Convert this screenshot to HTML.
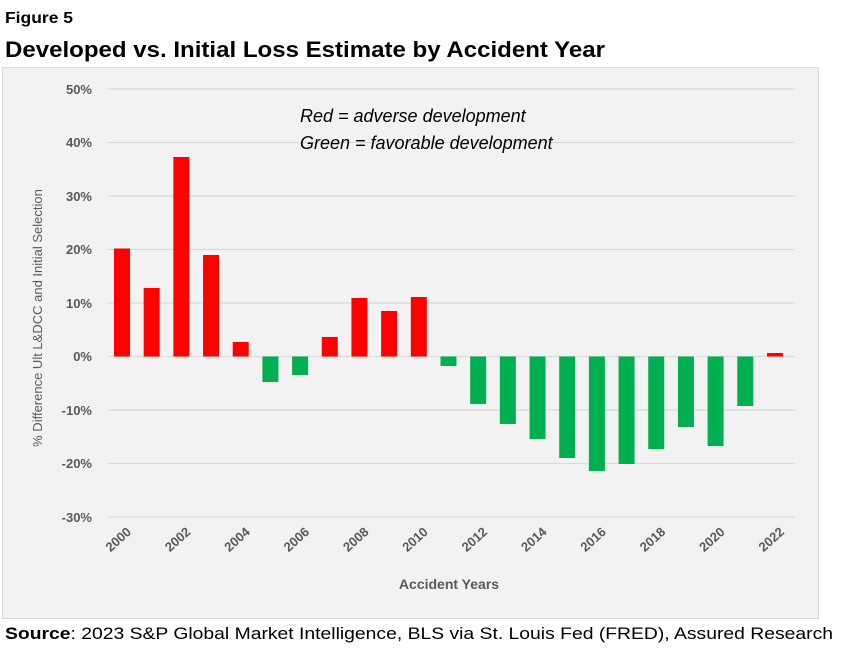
<!DOCTYPE html>
<html><head><style>
body{margin:0;background:#fff;width:865px;height:647px;overflow:hidden;font-family:"Liberation Sans",Arial,sans-serif;}
</style></head><body>
<svg width="865" height="647" xmlns="http://www.w3.org/2000/svg" font-family="Liberation Sans, Arial, sans-serif">
<rect x="0" y="0" width="865" height="647" fill="#fff"/>
<text x="5" y="23" font-size="16" font-weight="bold" fill="#000" textLength="68" lengthAdjust="spacingAndGlyphs">Figure 5</text>
<text x="5" y="57" font-size="22" font-weight="bold" fill="#000" textLength="600" lengthAdjust="spacingAndGlyphs">Developed vs. Initial Loss Estimate by Accident Year</text>
<rect x="2.5" y="67.5" width="816" height="551" fill="#f2f2f2" stroke="#d9d9d9"/>
<g stroke="#d9d9d9" stroke-width="1.2">
<line x1="108" x2="795" y1="89" y2="89"/><line x1="108" x2="795" y1="142.5" y2="142.5"/>
<line x1="108" x2="795" y1="196" y2="196"/><line x1="108" x2="795" y1="249.5" y2="249.5"/>
<line x1="108" x2="795" y1="303" y2="303"/><line x1="108" x2="795" y1="356.5" y2="356.5"/>
<line x1="108" x2="795" y1="410" y2="410"/><line x1="108" x2="795" y1="463.5" y2="463.5"/>
<line x1="108" x2="795" y1="517" y2="517"/>
</g>
<g font-size="13" font-weight="bold" fill="#595959" text-anchor="end">
<text x="92" y="94">50%</text><text x="92" y="147">40%</text><text x="92" y="201">30%</text>
<text x="92" y="254">20%</text><text x="92" y="308">10%</text><text x="92" y="361">0%</text>
<text x="92" y="415">-10%</text><text x="92" y="468">-20%</text><text x="92" y="522">-30%</text>
</g>
<g id="bars"></g>
<g font-size="13" font-weight="bold" fill="#595959" id="xl"></g>
<text x="449" y="589" font-size="14" font-weight="bold" fill="#595959" text-anchor="middle">Accident Years</text>
<text transform="translate(42,318) rotate(-90)" font-size="13" fill="#595959" text-anchor="middle">% Difference Ult L&amp;DCC and Initial Selection</text>
<text x="300" y="122" font-size="18" font-style="italic" fill="#000">Red = adverse development</text>
<text x="300" y="149" font-size="18" font-style="italic" fill="#000">Green = favorable development</text>
<text x="5" y="639" font-size="17" fill="#000" textLength="828" lengthAdjust="spacingAndGlyphs"><tspan font-weight="bold">Source</tspan>: 2023 S&amp;P Global Market Intelligence, BLS via St. Louis Fed (FRED), Assured Research</text>
</svg>
<script>
var ys=[248.5,288,157,255,342,382,375,337,298,311,297,366,404,424,439,458,471,464,449,427,446,406,353];
var z=356.5,g=document.getElementById('bars'),xl=document.getElementById('xl'),ns="http://www.w3.org/2000/svg";
ys.forEach(function(y,i){var cx=122+i*29.68;var r=document.createElementNS(ns,'rect');
r.setAttribute('x',cx-8);r.setAttribute('width',16);
if(y<z){r.setAttribute('y',y);r.setAttribute('height',z-y);r.setAttribute('fill','#ff0000');}
else{r.setAttribute('y',z);r.setAttribute('height',y-z);r.setAttribute('fill','#00b050');}
g.appendChild(r);
if(i%2==0){var t=document.createElementNS(ns,'text');t.setAttribute('text-anchor','end');
t.setAttribute('transform','translate('+(cx+10)+',533) rotate(-42)');t.textContent=2000+i;xl.appendChild(t);}
});
</script>
</body></html>
